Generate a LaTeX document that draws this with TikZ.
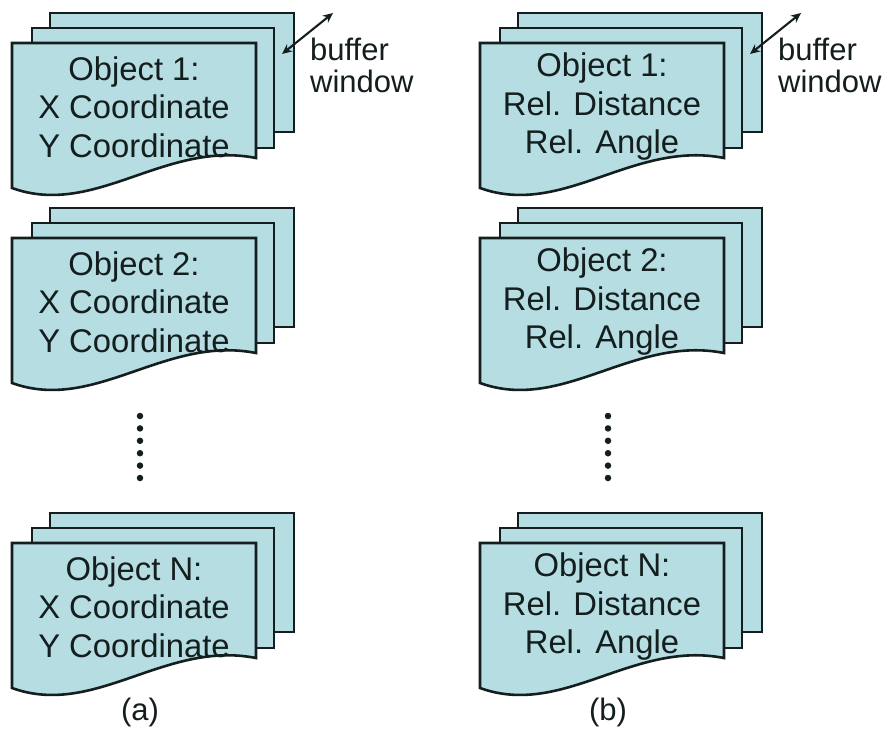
\documentclass[tikz,border=0pt]{standalone}
\usepackage{fontspec}
\setmainfont{Liberation Sans}
\usetikzlibrary{arrows.meta}
\definecolor{sheetfill}{RGB}{182,221,225}
\definecolor{inkline}{RGB}{20,30,30}
\tikzset{
  sheet/.style={fill=sheetfill, draw=inkline, line width=2.6pt, line join=miter},
  sheettext/.style={align=center, inner sep=0pt, text=inkline,
    font=\fontsize{32.8}{38.5}\selectfont},
  caption/.style={inner sep=0pt, text=inkline, font=\fontsize{31}{32}\selectfont},
  bufarrow/.style={{Stealth[length=10pt,width=9pt]}-{Stealth[length=10pt,width=9pt]}, line width=2.1pt, draw=inkline},
  dot/.style={circle, fill=inkline, inner sep=0pt, minimum size=6.5pt}
}
% a stack of three sheets; #1 = x shift, #2 = y shift (pt), #3 = node name, #4 = text
\newcommand\sheetstack[4]{%
  \begin{scope}[xshift=#1pt, yshift=-#2pt]
    \draw[sheet] (50,13) rectangle (294,132);
    \draw[sheet] (32,28) rectangle (274,148);
    \draw[sheet] (12,43) -- (256,43) -- (256,158)
      .. controls (165,140) and (95,218) .. (12,188) -- cycle;
    \node[sheettext] (#3) at (134,107) {#4};
  \end{scope}}
\begin{document}
\begin{tikzpicture}[x=1pt, y=-1pt]
  \useasboundingbox (0,0) rectangle (888,729);
  \fill[white] (0,0) rectangle (888,729);

  % column (a): positions
  \sheetstack{0}{0}{a1}{Object 1:\\X Coordinate\\Y Coordinate}
  \sheetstack{0}{195}{a2}{Object 2:\\X Coordinate\\Y Coordinate}
  \sheetstack{0}{500}{aN}{Object N:\\X Coordinate\\Y Coordinate}

  % column (b): relative distance and angle
  \sheetstack{468}{0}{b1}{Object 1:\\Rel. Distance\\Rel. Angle}
  \sheetstack{468}{195}{b2}{Object 2:\\Rel. Distance\\Rel. Angle}
  \sheetstack{468}{500}{bN}{Object N:\\Rel. Distance\\Rel. Angle}

  % buffer window markers
  \coordinate (aw0) at (282,54);
  \coordinate (aw1) at (333,13);
  \draw[bufarrow] (aw0) -- (aw1);
  \node[caption, anchor=north west, align=left] (abuf) at (310,38)
    {buffer\\window};
  \coordinate (bw0) at (750,54);
  \coordinate (bw1) at (801,13);
  \draw[bufarrow] (bw0) -- (bw1);
  \node[caption, anchor=north west, align=left] (bbuf) at (778,38)
    {buffer\\window};

  % ellipsis dots between object 2 and object N
  \foreach \k in {0,...,5} {
    \node[dot] (ad\k) at (140,416+12.4*\k) {};
    \node[dot] (bd\k) at (608,416+12.4*\k) {};
  }

  % sub-figure labels
  \node[caption] (capa) at (140,712) {(a)};
  \node[caption] (capb) at (608,712) {(b)};
\end{tikzpicture}
\end{document}
